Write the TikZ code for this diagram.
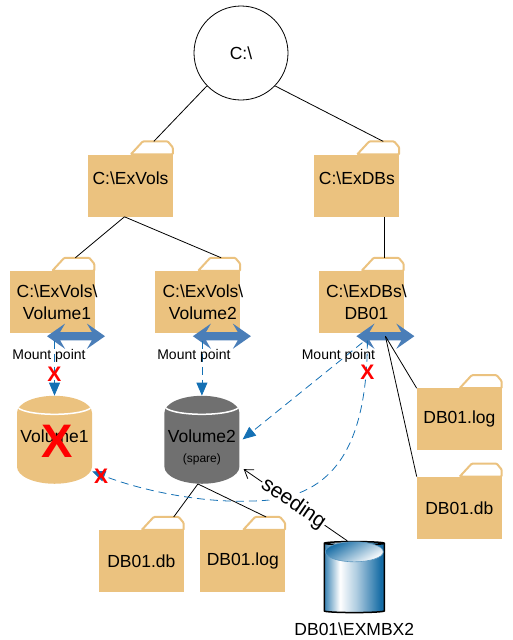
\documentclass[tikz,border=0pt]{standalone}
\usepackage{fontspec}
\setmainfont{Liberation Sans}
\usetikzlibrary{shapes.geometric, shapes.arrows, arrows.meta, positioning, calc}
\definecolor{foldertan}{RGB}{235,194,127}
\definecolor{mountblue}{RGB}{74,126,184}
\definecolor{dashblue}{RGB}{20,112,180}
\definecolor{diskgrey}{RGB}{112,112,112}
\definecolor{mbxblue}{RGB}{22,108,165}
\pgfdeclarehorizontalshading{mbxshade}{100bp}{color(0bp)=(mbxblue); color(25bp)=(mbxblue!85); color(38bp)=(white); color(52bp)=(mbxblue!35); color(72bp)=(mbxblue); color(100bp)=(mbxblue)}
\newcommand{\nudged}[1]{\makebox[0pt][c]{\hspace*{10pt}#1}}

\begin{document}
\begin{tikzpicture}[
    x=1pt, y=-1pt,
    labeltext/.style={font=\fontsize{17.5}{22}\selectfont, inner sep=0pt, align=center},
    foldernode/.style={labeltext, rectangle, fill=foldertan, minimum width=85pt, minimum height=62pt,
        append after command={\pgfextra{
            \draw[draw=foldertan, fill=white, line width=2pt, rounded corners=1pt]
                ([xshift=43pt]\tikzlastnode.north west) -- ++(12pt,13pt) -- ++(25pt,0pt) -- ++(5pt,-6pt) -- ++(0pt,-7pt) -- cycle;
            \coordinate (\tikzlastnode tab) at ([xshift=66pt,yshift=13pt]\tikzlastnode.north west);
        }}},
    toplabel/.style={text depth=14pt},
    disknode/.style={labeltext, text depth=24pt, cylinder, shape border rotate=90, aspect=0.5, minimum height=85pt, minimum width=75pt,
        path picture={
            \draw[white, line width=1.5pt] ([xshift=-37.5pt,yshift=-10pt]path picture bounding box.north)
                arc[start angle=180, end angle=360, x radius=37.5pt, y radius=8.5pt];
        }},
    mountarrow/.style={double arrow, fill=mountblue, minimum height=58pt, minimum width=25pt, inner sep=4pt,
        double arrow head extend=8.5pt, double arrow tip angle=70, double arrow head indent=5pt},
    mountlabel/.style={font=\fontsize{14}{16}\selectfont, inner sep=0pt},
    crossmark/.style={font=\fontsize{21}{21}\selectfont\bfseries, text=red, inner sep=0pt},
    link/.style={line width=0.8pt},
    dashlink/.style={-{Triangle[length=13pt,width=11pt]}, draw=dashblue, line width=0.8pt, dash pattern=on 8pt off 5pt}
]

\node[circle, draw, line width=0.8pt, minimum size=94pt, inner sep=0pt, labeltext] (root) at (241,53) {C:\textbackslash};

\node[foldernode, toplabel, below=54pt of root, xshift=-110.5pt] (exvols) {C:\textbackslash ExVols};
\node[foldernode, toplabel, right=141pt of exvols] (exdbs) {C:\textbackslash ExDBs};

\node[foldernode, below=54pt of exvols, xshift=-78.5pt] (fvolone) {\nudged{C:\textbackslash ExVols\textbackslash}\\\nudged{Volume1}};
\node[foldernode, right=60.5pt of fvolone] (fvoltwo) {\nudged{C:\textbackslash ExVols\textbackslash}\\\nudged{Volume2}};
\node[foldernode, below=54pt of exdbs, xshift=4.5pt] (fdb) {\nudged{C:\textbackslash ExDBs\textbackslash}\\\nudged{DB01}};

\node[foldernode, below=55pt of fdb, xshift=98pt] (logright) {DB01.log};
\node[foldernode, below=26pt of logright] (dbright) {DB01.db};

% mount points
\node[mountarrow] (mntone) at ([xshift=24pt,yshift=-3pt]fvolone.south) {};
\node[mountarrow] (mnttwo) at ([xshift=24pt,yshift=-3pt]fvoltwo.south) {};
\node[mountarrow] (mntdb) at ([xshift=24pt,yshift=-3pt]fdb.south) {};

\node[disknode, fill=foldertan, below=55pt of mntone, xshift=-21.5pt] (volone) {Volume1};
\node[disknode, fill=diskgrey, right=72pt of volone] (voltwo) {Volume2};
\node[mountlabel, font=\fontsize{12}{14}\selectfont, below=5pt of voltwo.center] (spare) {(spare)};

\node[foldernode, below=46pt of voltwo, xshift=-60.5pt] (dbbottom) {DB01.db};
\node[foldernode, right=16pt of dbbottom] (logbottom) {DB01.log};

\node[cylinder, shape border rotate=90, aspect=0.5, draw=black, line width=1.5pt, minimum height=71pt, minimum width=60pt,
    shading=mbxshade, right=38pt of logbottom, yshift=-17.5pt] (mbx) {};
\shade[draw=mbxblue!70, line width=0.6pt, top color=mbxblue, bottom color=white, shading angle=30]
    ([yshift=-11pt]mbx.north) ellipse [x radius=29pt, y radius=10pt];
\node[labeltext, below=9pt of mbx] (mbxlabel) {DB01\textbackslash EXMBX2};

% tree links
\draw[link] (root.-136) -- (exvolstab);
\draw[link] (root.-44) -- ([xshift=3pt]exdbstab);
\draw[link] ([xshift=-6pt]exvols.south) -- (fvolonetab);
\draw[link] ([xshift=-6pt]exvols.south) -- (fvoltwotab);
\draw[link] (exdbs.south -| fdbtab) -- (fdbtab);
\draw[link] (mntdb.center) -- (logright.north west);
\draw[link] (mntdb.center) -- (dbright.north west);
\draw[link] ([xshift=-4pt]voltwo.south) -- ([xshift=9pt]dbbottomtab);
\draw[link] ([xshift=-4pt]voltwo.south) -- (logbottomtab);

% mount links
\draw[dashlink] (mntone.south -| volone.north) -- (volone.north);
\draw[dashlink] (mnttwo.south -| voltwo.north) -- (voltwo.north);
\draw[dashlink] ([xshift=-23pt,yshift=-2pt]mntdb.south) -- ([xshift=3pt,yshift=9pt]voltwo.east);
\draw[dashlink] ([xshift=-18pt]mntdb.south) .. controls (367,465) and (320,501) .. (250,501)
    .. controls (200,503) and (140,490) .. ([yshift=-23pt]volone.east);

% seeding
\draw[-{Straight Barb[length=8pt,width=11pt]}, line width=0.8pt, shorten >=5pt] ([xshift=-7pt]mbx.north) -- node[midway, sloped, fill=white, inner sep=1pt, font=\fontsize{21}{21}\selectfont] (seeding) {seeding} ([yshift=-18pt]voltwo.east);

\node[mountlabel, below=9pt of mntone, xshift=-27pt] (mlone) {Mount point};
\node[mountlabel, below=9pt of mnttwo, xshift=-28pt] (mltwo) {Mount point};
\node[mountlabel, below=9pt of mntdb, xshift=-47pt] (mldb) {Mount point};

\node[crossmark] (xone) at ([yshift=-34pt]mntone.south -| volone.north) {X};
\node[crossmark] (xtwo) at ([xshift=-18pt,yshift=-32pt]mntdb.south) {X};
\node[crossmark] (xthree) at ([xshift=9pt,yshift=-28pt]volone.east) {X};
\node[crossmark, font=\fontsize{47}{47}\selectfont\bfseries, at=(volone.center), yshift=7pt, xshift=2.5pt] (xbig) {X};

\useasboundingbox (0,0) rectangle (513,640);
\end{tikzpicture}
\end{document}
